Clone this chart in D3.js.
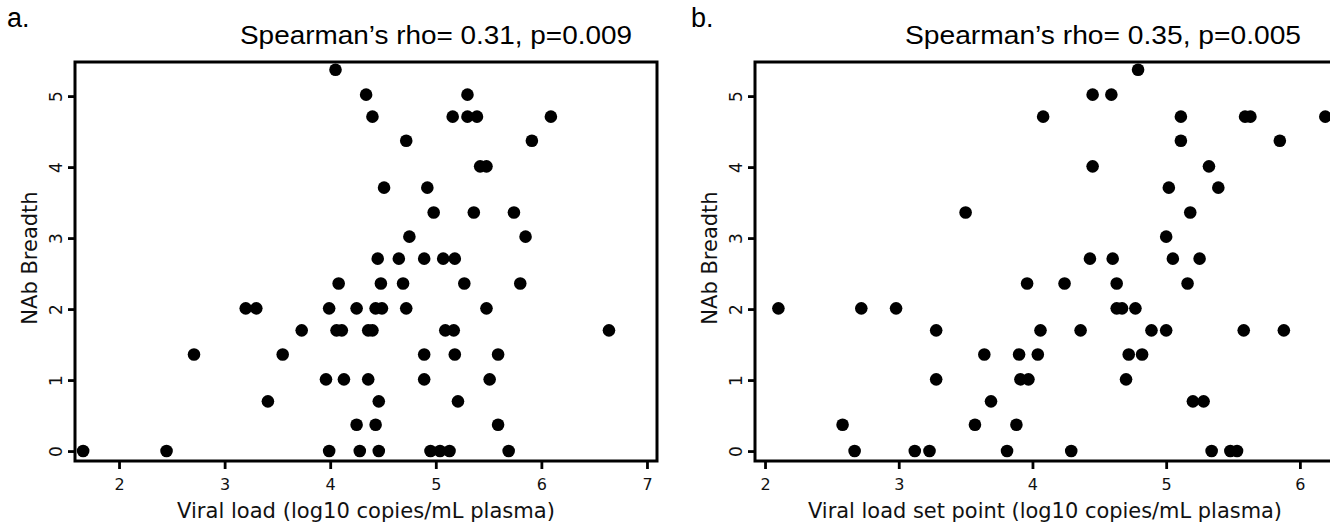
<!DOCTYPE html>
<html>
<head>
<meta charset="utf-8">
<script src="https://cdn.jsdelivr.net/npm/d3@7"></script>
<style>
  body { margin: 0; background: #fff; }
  svg { display: block; }
</style>
</head>
<body>
<div id="chart"></div>
<script>
// Panel a: viral load vs NAb breadth
const viralLoadA = [4.05, 4.34, 5.30, 4.40, 5.16, 5.30, 5.39, 6.09, 4.72, 5.91,
    5.42, 5.48, 4.51, 4.92, 4.98, 5.36, 5.74, 4.75, 5.85, 4.45,
    4.65, 4.89, 5.07, 5.18, 4.08, 4.48, 4.69, 5.27, 5.80, 3.20,
    3.30, 3.99, 4.25, 4.43, 4.49, 4.72, 5.48, 3.73, 4.06, 4.11,
    4.36, 4.40, 5.09, 5.17, 6.64, 2.71, 3.55, 4.89, 5.18, 5.59,
    3.96, 4.13, 4.36, 4.89, 5.51, 3.41, 4.46, 5.21, 4.25, 4.43,
    5.59, 1.66, 2.45, 3.99, 4.28, 4.46, 4.95, 5.04, 5.13, 5.69];
const breadthA = [5.37, 5.02, 5.02, 4.71, 4.71, 4.71, 4.71, 4.71, 4.37, 4.37,
    4.01, 4.01, 3.71, 3.71, 3.36, 3.36, 3.36, 3.02, 3.02, 2.71,
    2.71, 2.71, 2.71, 2.71, 2.36, 2.36, 2.36, 2.36, 2.36, 2.01,
    2.01, 2.01, 2.01, 2.01, 2.01, 2.01, 2.01, 1.70, 1.70, 1.70,
    1.70, 1.70, 1.70, 1.70, 1.70, 1.36, 1.36, 1.36, 1.36, 1.36,
    1.01, 1.01, 1.01, 1.01, 1.01, 0.70, 0.70, 0.70, 0.37, 0.37,
    0.37, 0, 0, 0, 0, 0, 0, 0, 0, 0];

// Panel b: viral load set point vs NAb breadth
const setPointB = [4.79, 4.45, 4.59, 4.08, 5.11, 5.59, 5.63, 6.19, 5.11, 5.85,
    4.45, 5.32, 5.02, 5.39, 3.50, 5.18, 5.00, 4.43, 4.60, 5.05,
    5.25, 3.96, 4.24, 4.63, 5.16, 2.10, 2.72, 2.98, 4.63, 4.67,
    4.77, 3.28, 4.06, 4.36, 4.89, 5.00, 5.58, 5.88, 3.64, 3.90,
    4.04, 4.72, 4.82, 3.28, 3.91, 3.97, 4.70, 3.69, 5.20, 5.28,
    2.58, 3.57, 3.88, 2.67, 3.12, 3.23, 3.81, 4.29, 5.34, 5.48, 5.53];
const breadthB = [5.37, 5.02, 5.02, 4.71, 4.71, 4.71, 4.71, 4.71, 4.37, 4.37,
    4.01, 4.01, 3.71, 3.71, 3.36, 3.36, 3.02, 2.71, 2.71, 2.71,
    2.71, 2.36, 2.36, 2.36, 2.36, 2.01, 2.01, 2.01, 2.01, 2.01,
    2.01, 1.70, 1.70, 1.70, 1.70, 1.70, 1.70, 1.70, 1.36, 1.36,
    1.36, 1.36, 1.36, 1.01, 1.01, 1.01, 1.01, 0.70, 0.70, 0.70,
    0.37, 0.37, 0.37, 0, 0, 0, 0, 0, 0, 0, 0];

// Tick labels
const xTicksA = [2, 3, 4, 5, 6, 7];
const xTicksB = [2, 3, 4, 5, 6];
const yTicks = [0, 1, 2, 3, 4, 5];

const width = 1330;
const height = 522;

const svg = d3.select("#chart")
    .append("svg")
    .attr("width", width)
    .attr("height", height);

const labelFont = "'DejaVu Sans', Verdana, sans-serif";
const titleFont = "'Liberation Sans', Arial, Helvetica, sans-serif";

// Draw one R-style scatter panel
function drawPanel(p) {
    const x = d3.scaleLinear().domain(p.xDomain).range([p.left, p.right]);
    const y = d3.scaleLinear().domain([-0.14, 5.48]).range([461, 62]);
    const g = svg.append("g");

    // x axis ticks
    const xAxis = g.append("g")
        .attr("transform", `translate(0,${y.range()[0]})`)
        .call(d3.axisBottom(x).tickValues(p.xTicks).tickSize(8).tickPadding(10)
            .tickFormat(d3.format("d")));
    xAxis.select(".domain").remove();
    xAxis.selectAll("line").attr("stroke", "#000").attr("stroke-width", 2.8);
    xAxis.selectAll("text")
        .attr("fill", "#111")
        .style("font-family", labelFont)
        .style("font-size", "16px");

    // y axis ticks, labels rotated like R's default
    const yAxis = g.append("g")
        .attr("transform", `translate(${p.left},0)`)
        .call(d3.axisLeft(y).tickValues(yTicks).tickSize(7).tickFormat(d3.format("d")));
    yAxis.select(".domain").remove();
    yAxis.selectAll("line").attr("stroke", "#000").attr("stroke-width", 2.8);
    yAxis.selectAll("text")
        .attr("x", null)
        .attr("dy", null)
        .attr("text-anchor", "middle")
        .attr("transform", "translate(-13,0) rotate(-90)")
        .attr("fill", "#111")
        .style("font-family", labelFont)
        .style("font-size", "17px");

    // points
    g.append("g")
        .selectAll("circle")
        .data(p.xs.map((v, i) => [v, p.ys[i]]))
        .enter()
        .append("circle")
        .attr("cx", d => x(d[0]))
        .attr("cy", d => y(d[1]))
        .attr("r", 6.3)
        .attr("fill", "#000");

    // box
    g.append("rect")
        .attr("x", p.left)
        .attr("y", 62)
        .attr("width", p.right - p.left)
        .attr("height", 461 - 62)
        .attr("fill", "none")
        .attr("stroke", "#000")
        .attr("stroke-width", 3);

    // axis titles
    g.append("text")
        .attr("x", p.xTitleCenter)
        .attr("y", 518)
        .attr("text-anchor", "middle")
        .attr("textLength", p.xTitleWidth)
        .attr("lengthAdjust", "spacingAndGlyphs")
        .style("font-family", labelFont)
        .style("font-size", "21px")
        .attr("fill", "#111")
        .text(p.xTitle);

    g.append("text")
        .attr("transform", `translate(${p.left - 38},258) rotate(-90)`)
        .attr("text-anchor", "middle")
        .style("font-family", labelFont)
        .style("font-size", "21px")
        .attr("fill", "#111")
        .text("NAb Breadth");

    // panel letter and title
    g.append("text")
        .attr("x", p.letterX)
        .attr("y", 27)
        .style("font-family", titleFont)
        .style("font-size", "27px")
        .text(p.letter);

    g.append("text")
        .attr("x", p.titleX)
        .attr("y", 44)
        .attr("textLength", p.titleWidth)
        .attr("lengthAdjust", "spacingAndGlyphs")
        .style("font-family", titleFont)
        .style("font-size", "25px")
        .text(p.title);
}

drawPanel({
    left: 75, right: 657, xDomain: [1.583, 7.095], xTicks: xTicksA,
    xs: viralLoadA, ys: breadthA,
    xTitle: "Viral load (log10 copies/mL plasma)", xTitleCenter: 366, xTitleWidth: 378,
    letter: "a.", letterX: 7,
    title: "Spearman\u2019s rho= 0.31, p=0.009", titleX: 240, titleWidth: 392
});

drawPanel({
    left: 755, right: 1340, xDomain: [1.925, 6.30], xTicks: xTicksB,
    xs: setPointB, ys: breadthB,
    xTitle: "Viral load set point (log10 copies/mL plasma)", xTitleCenter: 1045, xTitleWidth: 474,
    letter: "b.", letterX: 691,
    title: "Spearman\u2019s rho= 0.35, p=0.005", titleX: 905, titleWidth: 396
});
</script>
</body>
</html>
